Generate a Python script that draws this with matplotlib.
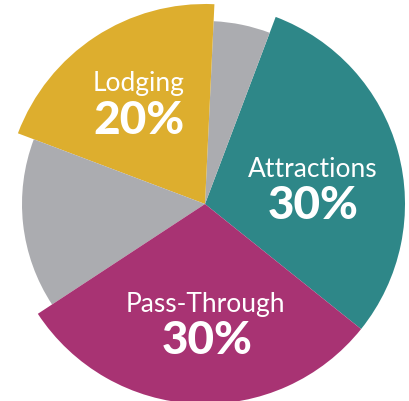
import matplotlib.pyplot as plt

# slices, counterclockwise from the teal/magenta edge
labels = ['Attractions', '', 'Lodging', '', 'Pass-Through']
values = [30, 5, 20, 15, 30]
pct_text = ['30%', '', '20%', '', '30%']
colors = ['#2E8788', '#ABACB0', '#DDAE2E', '#ABACB0', '#A83373']
is_gray = [False, True, False, True, False]

W, H = 410, 402
fig = plt.figure(figsize=(W / 100, H / 100), dpi=100)
ax = fig.add_axes([0, 0, 1, 1])

cx, cy = 205, H - 205
wedges, _ = ax.pie(values, colors=colors, startangle=-38.7, counterclock=True,
                   radius=200, center=(cx, cy), frame=True,
                   wedgeprops=dict(linewidth=0))
for w, g in zip(wedges, is_gray):
    if g:
        w.set_radius(183)
ax.set_xlim(0, W)
ax.set_ylim(0, H)
ax.set_aspect('equal')
ax.axis('off')

# label anchor points (pixels from top-left)
name_pos = [(313, 170), None, (139, 83), None, (205, 305)]
pct_pos = [(313, 206), None, (139, 121), None, (207, 341)]

for lab, pct, npos, ppos in zip(labels, pct_text, name_pos, pct_pos):
    if not lab:
        continue
    ax.text(npos[0], H - npos[1], lab, color='white', fontsize=19,
            family='Lato', ha='center', va='center')
    ax.text(ppos[0], H - ppos[1], pct, color='white', fontsize=33,
            family='Lato', fontweight='black', ha='center', va='center')

fig.savefig('out.png', dpi=100)
